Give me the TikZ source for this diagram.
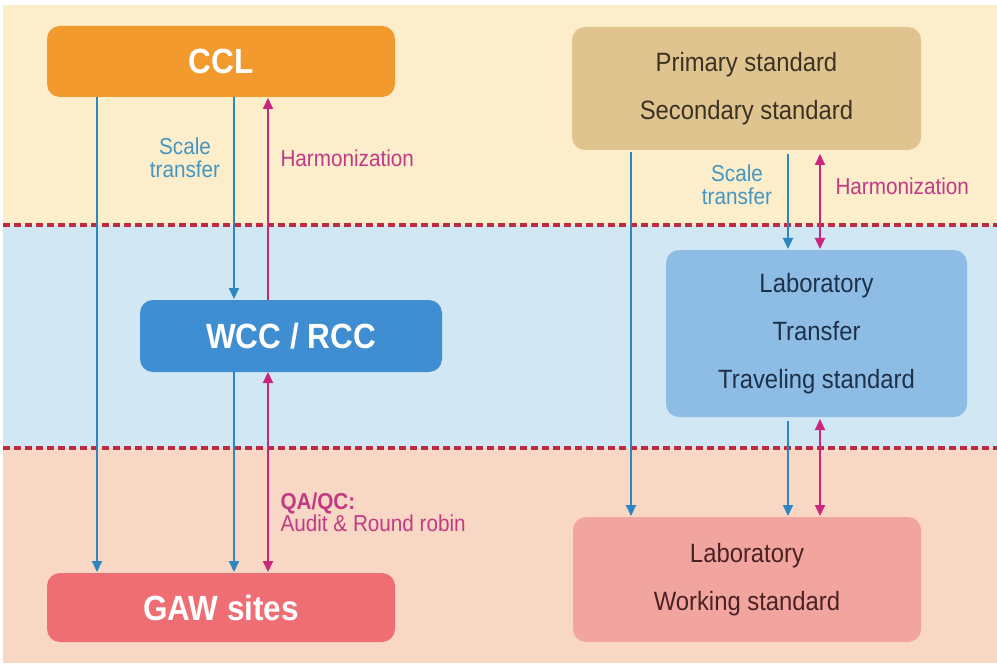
\documentclass[tikz,border=0pt]{standalone}
\usepackage{fontspec}
\setmainfont{Liberation Sans}[FakeStretch=0.9]
\usetikzlibrary{arrows.meta}

\definecolor{bandtop}{HTML}{FCEDCB}
\definecolor{bandmid}{HTML}{D2E7F4}
\definecolor{bandlow}{HTML}{F9D7C5}
\definecolor{sepline}{HTML}{BD2A42}
\definecolor{cclfill}{HTML}{F29A2E}
\definecolor{primfill}{HTML}{DFC490}
\definecolor{wccfill}{HTML}{3F8ED2}
\definecolor{trfill}{HTML}{8DBDE4}
\definecolor{gawfill}{HTML}{EE6E74}
\definecolor{workfill}{HTML}{F2A59F}
\definecolor{flowblue}{HTML}{2E86C1}
\definecolor{flowmag}{HTML}{C9277D}
\definecolor{labelblue}{HTML}{4596C2}
\definecolor{labelmag}{HTML}{C23A84}
\definecolor{txtbrown}{HTML}{3B3222}
\definecolor{txtnavy}{HTML}{1E3148}
\definecolor{txtmaroon}{HTML}{4A2224}

\tikzset{
  mainbox/.style={rounded corners=13pt, inner sep=0pt, align=center,
    text=white, font=\fontsize{35}{38}\selectfont\bfseries},
  stdbox/.style={rounded corners=13pt, inner sep=0pt, align=center,
    font=\fontsize{26.5}{48}\selectfont},
  tip/.style={-{Triangle[width=10pt,length=11pt]}},
  bitip/.style={{Triangle[width=10pt,length=11pt]}-{Triangle[width=10pt,length=11pt]}},
  bluearrow/.style={tip, draw=flowblue, line width=2pt},
  magarrow/.style={tip, draw=flowmag, fill=flowmag, line width=2pt},
  magboth/.style={bitip, draw=flowmag, line width=2pt},
  separator/.style={draw=sepline, line width=3.2pt, dash pattern=on 7pt off 4pt},
  bluelabel/.style={text=labelblue, align=center, font=\fontsize{23}{23.5}\selectfont},
  maglabel/.style={text=labelmag, align=left, font=\fontsize{23}{21}\selectfont},
}

\begin{document}
\begin{tikzpicture}[x=1pt, y=-1pt]
  % canvas and the three bands
  \fill[white] (0,0) rectangle (997,666);
  \useasboundingbox (0,0) rectangle (997,666);
  \fill[bandtop] (3,5) rectangle (997,225);
  \fill[bandmid] (3,225) rectangle (997,448);
  \fill[bandlow] (3,448) rectangle (997,663);
  \draw[separator] (3,225) -- (997,225);
  \draw[separator] (3,448) -- (997,448);

  % left column: calibration hierarchy
  \node[mainbox, fill=cclfill, minimum width=348pt, minimum height=71pt] (ccl) at (221,61.5) {CCL};
  \node[mainbox, fill=wccfill, minimum width=302pt, minimum height=72pt] (wcc) at (291,336) {WCC / RCC};
  \node[mainbox, fill=gawfill, minimum width=348pt, minimum height=69pt] (gaw) at (221,607.5) {GAW sites};

  % right column: standards hierarchy
  \node[stdbox, fill=primfill, text=txtbrown, minimum width=349pt, minimum height=123pt] (prim) at (746.5,88.5)
    {Primary standard\\Secondary standard};
  \node[stdbox, fill=trfill, text=txtnavy, minimum width=301pt, minimum height=167pt] (trans) at (816.5,333.5)
    {Laboratory\\Transfer\\Traveling standard};
  \node[stdbox, fill=workfill, text=txtmaroon, minimum width=348pt, minimum height=125pt] (work) at (747,579.5)
    {Laboratory\\Working standard};

  % anchor points on box edges
  \coordinate (cclA) at (97,97);   \coordinate (gawA) at (97,572);
  \coordinate (cclB) at (234,97);  \coordinate (wccB) at (234,299);
  \coordinate (cclC) at (268,98);  \coordinate (wccC) at (268,300);
  \coordinate (wccD) at (234,372); \coordinate (gawD) at (234,572);
  \coordinate (wccE) at (268,372); \coordinate (gawE) at (268,572);

  \coordinate (primA) at (631,152);  \coordinate (workA) at (631,516);
  \coordinate (primB) at (788,154);  \coordinate (transB) at (788,249);
  \coordinate (primC) at (820,154);  \coordinate (transC) at (820,249);
  \coordinate (transD) at (788,421); \coordinate (workD) at (788,516);
  \coordinate (transE) at (820,419); \coordinate (workE) at (820,516);

  % left connectors
  \draw[bluearrow] (cclA) -- (gawA);
  \draw[bluearrow] (cclB) -- (wccB);
  \draw[magarrow] (wccC) -- (cclC);
  \draw[bluearrow] (wccD) -- (gawD);
  \draw[magboth] (wccE) -- (gawE);

  % right connectors
  \draw[bluearrow] (primA) -- (workA);
  \draw[bluearrow] (primB) -- (transB);
  \draw[magboth] (primC) -- (transC);
  \draw[bluearrow] (transD) -- (workD);
  \draw[magboth] (transE) -- (workE);

  % connector labels
  \node[bluelabel] (lst) at (185,158) {Scale\\transfer};
  \node[maglabel, anchor=west] (lhm) at (277,158) {Harmonization};
  \node[bluelabel] (rst) at (737,185) {Scale\\transfer};
  \node[maglabel, anchor=west] (rhm) at (832,186) {Harmonization};
  \node[maglabel, anchor=west] (qa) at (277,512) {\textbf{QA/QC:}\\Audit \& Round robin};
\end{tikzpicture}
\end{document}
